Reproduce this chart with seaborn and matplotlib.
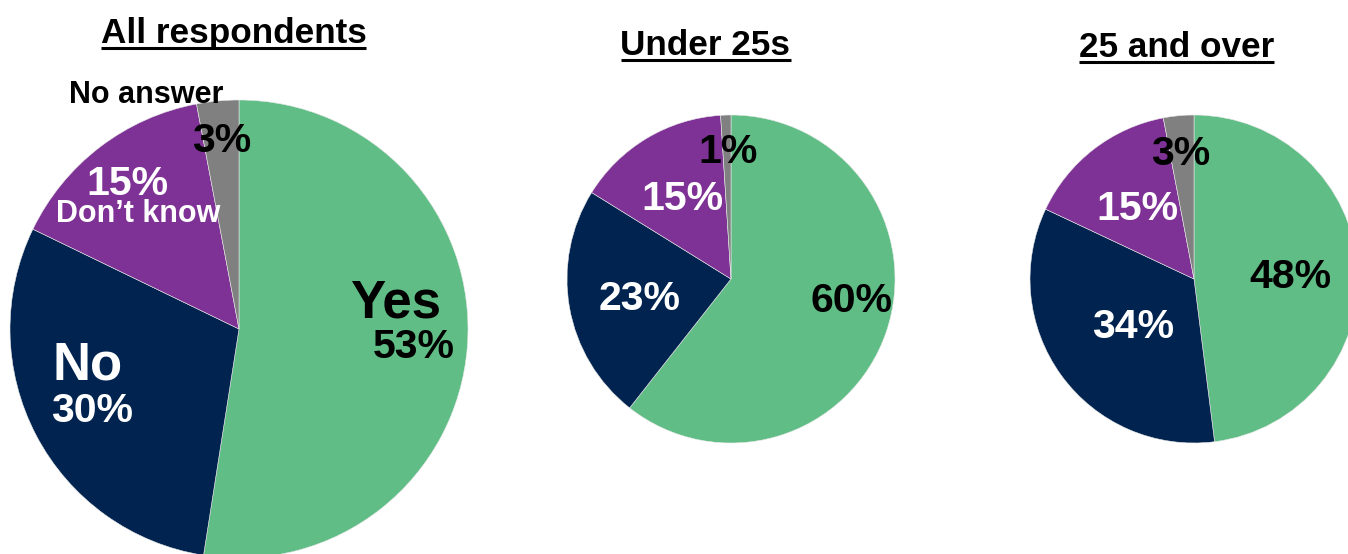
import matplotlib
matplotlib.use("Agg")
import matplotlib.pyplot as plt
import seaborn as sns
from matplotlib.lines import Line2D

# Survey answers, clockwise from 12 o'clock
categories = ["Yes", "No", "Don’t know", "No answer"]
all_respondents = [53, 30, 15, 3]
under_25s = [60, 23, 15, 1]
over_25 = [48, 34, 15, 3]
panel_titles = ["All respondents", "Under 25s", "25 and over"]
colors = ["#5FBD85", "#00234F", "#7F3296", "#808080"]
text_colors = ["black", "white", "white", "black"]

W, H = 1348, 554
sns.set_theme(style="white")
plt.rcParams["font.family"] = ["Liberation Sans", "DejaVu Sans"]
plt.rcParams["font.weight"] = "bold"
palette = sns.color_palette(colors)

fig = plt.figure(figsize=(W / 100, H / 100), dpi=100)
ax = fig.add_axes([0, 0, 1, 1])


def Y(y):
    """Convert a top-down pixel row into the axes' bottom-up coordinate."""
    return H - y


# pie centre (x, y from top) and radius, in pixels
pies = [(239, 329, 229), (731, 279, 164), (1194, 279, 164)]
# title centre x and baseline y
title_pos = [(233.5, 43), (705.5, 55), (1176.5, 57)]
# percentage label centre x / baseline y, per category
pct_pos = [
    [(414, 358), (92, 422), (127, 195), (222, 152)],
    [(852, 312), (640, 310), (682, 210), (728, 163)],
    [(1290, 288), (1133, 338), (1137, 220), (1181, 165)],
]
# category names written on the main pie only
name_pos = {0: (396, 317, 38), 1: (88, 380, 38), 2: (138, 222, 22), 3: (146, 103, 22)}

series = [all_respondents, under_25s, over_25]

for i, (values, (cx, cy, r)) in enumerate(zip(series, pies)):
    ax.pie(values, colors=palette, startangle=90, counterclock=False,
           center=(cx, Y(cy)), radius=r, frame=True,
           wedgeprops=dict(edgecolor="#e8e8e8", linewidth=0.4))
    for j, v in enumerate(values):
        px, py = pct_pos[i][j]
        ax.text(px, Y(py), f"{v}%", ha="center", va="baseline",
                fontsize=29.5, fontweight="bold", color=text_colors[j])
    if i == 0:
        for j, (nx, ny, fs) in name_pos.items():
            ax.text(nx, Y(ny), categories[j], ha="center", va="baseline",
                    fontsize=fs, fontweight="bold", color=text_colors[j])

ax.set_xlim(0, W)
ax.set_ylim(0, H)
ax.set_aspect("equal")
ax.axis("off")

titles = []
for t, (tx, ty) in zip(panel_titles, title_pos):
    titles.append(ax.text(tx, Y(ty), t, ha="center", va="baseline",
                          fontsize=25.3, fontweight="bold", color="black"))

# underline each title beneath its text extent
fig.canvas.draw()
renderer = fig.canvas.get_renderer()
for txt, (tx, ty) in zip(titles, title_pos):
    bb = txt.get_window_extent(renderer)
    yline = Y(ty + 5)
    ax.add_line(Line2D([bb.x0, bb.x1], [yline, yline], color="black",
                       linewidth=2.2, solid_capstyle="butt"))

fig.savefig("out.png", dpi=100)
